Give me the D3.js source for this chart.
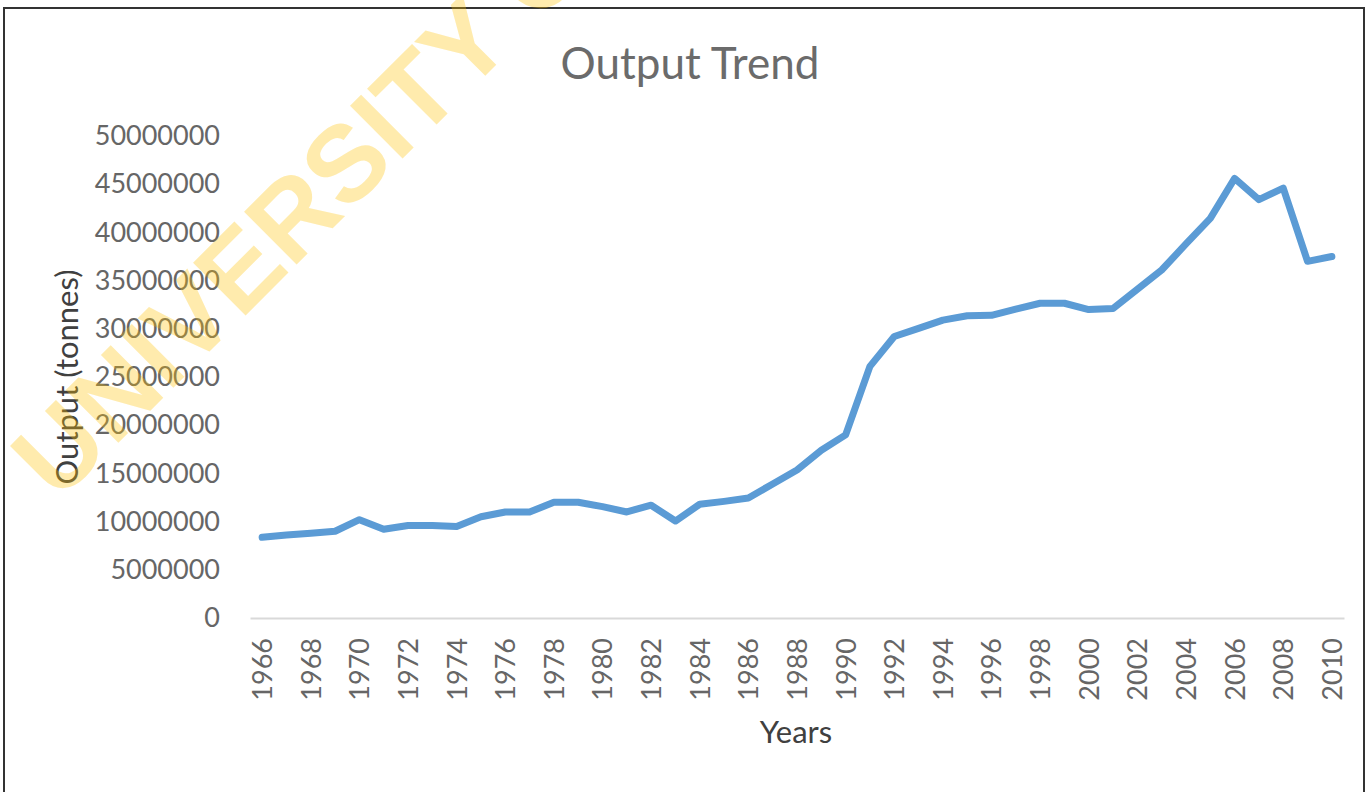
<!DOCTYPE html>
<html>
<head>
<meta charset="utf-8">
<script src="https://cdn.jsdelivr.net/npm/d3@7/dist/d3.min.js"></script>
<style>
  html, body { margin: 0; padding: 0; background: #fff; }
  svg { display: block; }
</style>
</head>
<body>
<svg id="chart" width="1368" height="792"></svg>
<script>
const years = d3.range(1966, 2011);
const output = [
  8370000, 8600000, 8800000, 9000000, 10200000, 9200000, 9600000, 9600000, 9500000, 10500000,
  11000000, 11000000, 12000000, 12000000, 11550000, 11000000, 11700000, 10060000, 11800000, 12100000,
  12450000, 13900000, 15350000, 17400000, 19000000, 26100000, 29200000, 30050000, 30900000, 31350000,
  31400000, 32050000, 32650000, 32650000, 32000000, 32100000, 34100000, 36100000, 38800000, 41450000,
  45600000, 43400000, 44600000, 37000000, 37500000
];
const yTicks = [0, 5000000, 10000000, 15000000, 20000000, 25000000, 30000000, 35000000, 40000000, 45000000, 50000000];
const xTickLabels = years.filter(y => (y - 1966) % 2 === 0);
const titleText = "Output Trend";
const xTitle = "Years";
const yTitle = "Output (tonnes)";
const watermark = "UNIVERSITY OF";

const svg = d3.select("#chart");
const font = "Lato, 'Open Sans', sans-serif";

// frame
svg.append("rect").attr("x", 4).attr("y", 8).attr("width", 1360).attr("height", 800)
  .attr("fill", "none").attr("stroke", "#333").attr("stroke-width", 2);

const x = d3.scalePoint().domain(years).range([250, 1344]).padding(0.5);
const y = d3.scaleLinear().domain([0, 50000000]).range([618, 136]);

// y axis labels
const yAxis = d3.axisLeft(y).tickValues(yTicks).tickFormat(d3.format("d")).tickSize(0).tickPadding(0);
const gy = svg.append("g").attr("transform", "translate(220,0)").call(yAxis);
gy.select(".domain").remove();
gy.selectAll("text").attr("font-family", font).attr("font-size", 27).attr("fill", "#666666");

// x axis
const xAxis = d3.axisBottom(x).tickValues(xTickLabels).tickSize(0).tickPadding(0);
const gx = svg.append("g").attr("transform", "translate(0,618)").call(xAxis);
gx.select(".domain").attr("stroke", "#D9D9D9").attr("stroke-width", 2);
gx.selectAll("text")
  .attr("font-family", font).attr("font-size", 27).attr("fill", "#666666")
  .attr("text-anchor", "end")
  .attr("transform", "rotate(-90)")
  .attr("x", -20).attr("y", 0).attr("dy", "0.35em");

// line
const line = d3.line().x((d, i) => x(years[i])).y(d => y(d));
svg.append("path").datum(output)
  .attr("d", line).attr("fill", "none")
  .attr("stroke", "#5B9BD5").attr("stroke-width", 7)
  .attr("stroke-linejoin", "round").attr("stroke-linecap", "round");

// title
svg.append("text").attr("x", 690).attr("y", 79).attr("text-anchor", "middle")
  .attr("font-family", font).attr("font-size", 44).attr("fill", "#6B6B6B").text(titleText);

// axis titles
svg.append("text").attr("x", 796).attr("y", 743).attr("text-anchor", "middle")
  .attr("font-family", font).attr("font-size", 31).attr("fill", "#404040").text(xTitle);
svg.append("text").attr("transform", "translate(78,377) rotate(-90)").attr("text-anchor", "middle")
  .attr("font-family", font).attr("font-size", 31).attr("fill", "#404040").text(yTitle);

// watermark
svg.append("text").attr("transform", "translate(58,503) rotate(-45)")
  .attr("font-family", "'Liberation Sans', Arial, sans-serif").attr("font-weight", "bold")
  .attr("font-size", 108).attr("fill", "#FFC000").attr("fill-opacity", 0.32)
  .text(watermark);
</script>
</body>
</html>
